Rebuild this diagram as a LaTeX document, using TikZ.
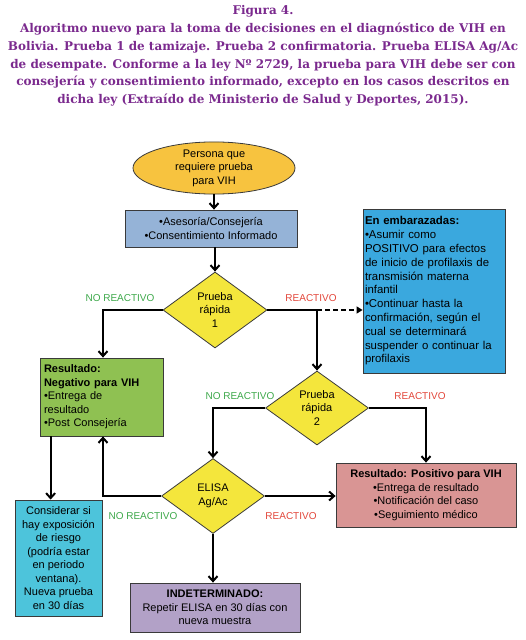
\documentclass[tikz,border=0pt]{standalone}
\usepackage{fontspec}
\setmainfont{Liberation Sans}
\newfontfamily\titlefont{DejaVu Serif}
\usetikzlibrary{shapes.geometric,arrows.meta}
\definecolor{ttl}{HTML}{7B2A8E}
\definecolor{cell}{HTML}{F7C33F}
\definecolor{cblue}{HTML}{95B3D7}
\definecolor{cemb}{HTML}{3AA8DE}
\definecolor{cdia}{HTML}{F4E63C}
\definecolor{cgreen}{HTML}{8FC152}
\definecolor{ccyan}{HTML}{4DC4DB}
\definecolor{cpink}{HTML}{D99594}
\definecolor{cpurp}{HTML}{B2A1C7}
\definecolor{lgreen}{HTML}{3DA84A}
\definecolor{lred}{HTML}{E2463A}
\definecolor{bord}{HTML}{3A3A3A}
\begin{document}
\begin{tikzpicture}[x=1pt,y=-1pt,
  every node/.style={font=\fontsize{11}{13.5}\selectfont},
  box/.style={draw=bord,line width=0.8pt,rectangle,inner sep=2pt},
  dia/.style={draw=bord,line width=0.8pt,diamond,fill=cdia,aspect=1.4,inner sep=0pt,align=center},
  arr/.style={line width=2.2pt,-{Straight Barb[length=5pt,width=9pt,line width=2pt]}},
  dsh/.style={line width=1.4pt,dashed,dash pattern=on 5pt off 3pt,-{Triangle[length=6pt,width=7pt]}},
  glab/.style={text=lgreen,font=\fontsize{10}{12}\selectfont},
  rlab/.style={text=lred,font=\fontsize{10}{12}\selectfont}]
\useasboundingbox (0,0) rectangle (526,640);
\node[text=ttl,align=center,font=\titlefont\bfseries\fontsize{12}{17.8}\selectfont] (title) at (263,56)
 {Figura 4.\\
 Algoritmo nuevo para la toma de decisiones en el diagnóstico de VIH en\\
 Bolivia. Prueba 1 de tamizaje. Prueba 2 confirmatoria. Prueba ELISA Ag/Ac\\
 de desempate. Conforme a la ley Nº 2729, la prueba para VIH debe ser con\\
 consejería y consentimiento informado, excepto en los casos descritos en\\
 dicha ley (Extraído de Ministerio de Salud y Deportes, 2015).};

\node[draw=bord,line width=0.8pt,ellipse,fill=cell,minimum width=162pt,minimum height=52pt,inner sep=0pt,align=center] (ell) at (214,168) {Persona que\\requiere prueba\\para VIH};
\node[box,fill=cblue,minimum width=172pt,minimum height=37pt,align=center] (blue) at (211,228.5) {•Asesoría/Consejería\\•Consentimiento Informado};
\node[dia,minimum width=104pt,minimum height=76pt] (d1) at (215,310) {Prueba\\rápida\\1};
\node[box,fill=cemb,minimum width=142pt,minimum height=164pt,text width=138pt,align=left,inner sep=2pt,font=\fontsize{11.4}{13.8}\selectfont] (emb) at (434,291)
 {\textbf{En embarazadas:}\\•Asumir como\\POSITIVO para efectos\\de inicio de profilaxis de\\transmisión materna\\infantil\\•Continuar hasta la\\confirmación, según el\\cual se determinará\\suspender o continuar la\\profilaxis};
\node[box,fill=cgreen,minimum width=123pt,minimum height=78pt,text width=115pt,align=left] (green) at (101.5,397)
 {\textbf{Resultado:}\\\textbf{Negativo para VIH}\\•Entrega de\\resultado\\•Post Consejería};
\node[dia,minimum width=103pt,minimum height=74pt] (d2) at (317,408) {Prueba\\rápida\\2};
\node[dia,minimum width=103pt,minimum height=75pt] (el) at (213,496) {ELISA\\Ag/Ac};
\node[box,fill=cpink,minimum width=180pt,minimum height=64pt,align=center] (pink) at (426,495)
 {\textbf{Resultado: Positivo para VIH}\\•Entrega de resultado\\•Notificación del caso\\•Seguimiento médico};
\node[box,fill=ccyan,minimum width=87pt,minimum height=116pt,align=center,inner sep=1pt] (cyan) at (58.5,558)
 {Considerar si\\hay exposición\\de riesgo\\(podría estar\\en periodo\\ventana).\\Nueva prueba\\en 30 días};
\node[box,fill=cpurp,minimum width=170pt,minimum height=49pt,align=center] (purp) at (215,607.5)
 {\textbf{INDETERMINADO:}\\Repetir ELISA en 30 días con\\nueva muestra};

\node[glab] (l1) at (120,298) {NO REACTIVO};
\node[rlab] (l2) at (311,298) {REACTIVO};
\node[glab] (l3) at (240,396) {NO REACTIVO};
\node[rlab] (l4) at (420,396) {REACTIVO};
\node[glab] (l5) at (143,516) {NO REACTIVO};
\node[rlab] (l6) at (291,516) {REACTIVO};

\draw[arr] (ell) -- (ell |- blue.north);
\draw[arr] (blue.south -| d1) -- (d1.north);
\draw[arr] (d1.west) -| ([xshift=1.5pt]green.north);
\draw[arr] (d1.east) -| (d2.north);
\coordinate (ds) at (d1.east -| d2.north);
\draw[dsh] (ds) -- (ds -| emb.west);
\draw[arr] (d2.west) -| (el.north);
\draw[arr] (d2.east) -| (pink.north);
\draw[arr] (el.east) -- (el.east -| pink.west);
\draw[arr] (el.west) -| ([xshift=1.5pt]green.south);
\draw[arr] ([xshift=11pt]green.south west) -- ([xshift=11pt]green.south west |- cyan.north);
\draw[arr] (el.south) -- (el.south |- purp.north);
\end{tikzpicture}
\end{document}
